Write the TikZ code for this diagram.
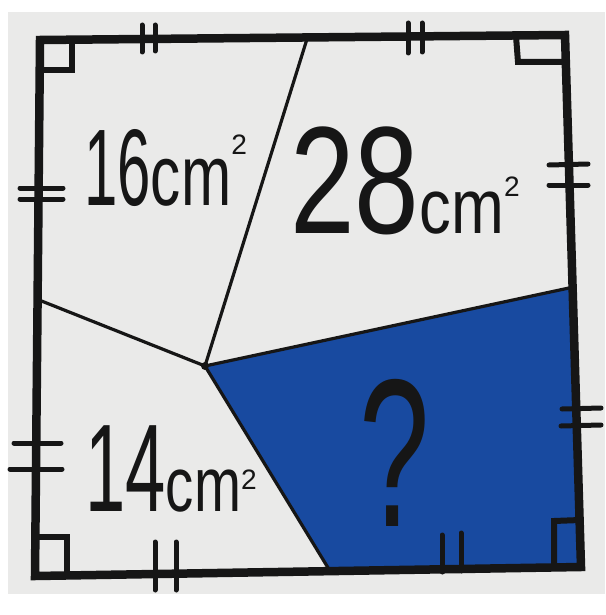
\documentclass[tikz,border=0pt]{standalone}
\usepackage{fontspec}
\setmainfont{Liberation Sans}
\definecolor{paper}{RGB}{234,234,233}
\definecolor{marker}{RGB}{24,74,160}
\definecolor{ink}{RGB}{22,22,22}
\begin{document}
\begin{tikzpicture}[x=0.02cm,y=-0.02cm,
  border/.style={draw=ink,line width=8.5*0.02cm,line join=miter},
  divider/.style={draw=ink,line width=3.2*0.02cm,line cap=round},
  tick/.style={draw=ink,line width=5*0.02cm,line cap=round},
  rmark/.style={draw=ink,line width=6*0.02cm,line join=miter},
  lbl/.style={anchor=base west,inner sep=0pt,text=ink}]
\useasboundingbox (0,0) rectangle (605,615);
\fill[white] (0,0) rectangle (605,615);
\fill[paper] (8,12) rectangle (605,594);
% key points
\coordinate (TL) at (40,40);
\coordinate (TR) at (565,35);
\coordinate (BR) at (581,567);
\coordinate (BL) at (35,576);
\coordinate (P) at (205,366);
\coordinate (T) at (307,39);
\coordinate (L) at (39,300);
\coordinate (R) at (569,288);
\coordinate (B) at (330,571);
% blue region
\fill[marker] (P) -- (R) -- (BR) -- (B) -- cycle;
% dividers
\draw[divider] (P) -- (T);
\draw[divider] (P) -- (L);
\draw[divider] (P) -- (R);
\draw[divider] (P) -- (B);
\fill[ink] (P) circle (4);
% border
\draw[border] (TL) -- (TR) -- (BR) -- (BL) -- cycle;
% right-angle marks
\draw[rmark] (40,70) -- (72,70) -- (72,40);
\draw[rmark] (516,36) -- (518,62) -- (563,62);
\draw[rmark] (36,537) -- (67,537) -- (67,575);
\draw[rmark] (554,567) -- (554,521) -- (580,520);
% tick marks top
\draw[tick] (142,25) -- (142,52);
\draw[tick] (155,25) -- (155,51);
\draw[tick] (408,23) -- (408,53);
\draw[tick] (422,23) -- (422,52);
% left
\draw[tick] (20,188) -- (63,188);
\draw[tick] (20,199) -- (63,199);
\draw[tick] (14,443) -- (61,443);
\draw[tick] (10,469) -- (62,469);
% right
\draw[tick] (549,165) -- (588,164);
\draw[tick] (549,185) -- (588,185);
\draw[tick] (562,409) -- (601,408);
\draw[tick] (561,426) -- (601,425);
% bottom
\draw[tick] (155,542) -- (155,590);
\draw[tick] (176,542) -- (176,590);
\draw[tick] (442,535) -- (442,572);
\draw[tick] (461,533) -- (461,571);
% labels
\node[lbl] (a16) at (84,205) {\scalebox{0.55}[1]{\fontsize{62}{62}\selectfont 16}\scalebox{0.7}[1]{\fontsize{49}{49}\selectfont cm}\raisebox{29pt}{\fontsize{16}{16}\selectfont 2}};
\node[lbl] (a28) at (290,233) {\scalebox{0.76}[1]{\fontsize{87}{87}\selectfont 28}\scalebox{0.82}[1]{\fontsize{44}{44}\selectfont cm}\raisebox{21pt}{\fontsize{16}{16}\selectfont 2}};
\node[lbl] (a14) at (85,511) {\scalebox{0.58}[1]{\fontsize{71}{71}\selectfont 14}\scalebox{0.73}[1]{\fontsize{44}{44}\selectfont cm}\raisebox{12.5pt}{\fontsize{16}{16}\selectfont 2}};
\node[anchor=base,inner sep=0pt,text=ink] (q) at (395,526) {\scalebox{0.6}[1]{\fontsize{120}{120}\selectfont ?}};
\end{tikzpicture}
\end{document}
